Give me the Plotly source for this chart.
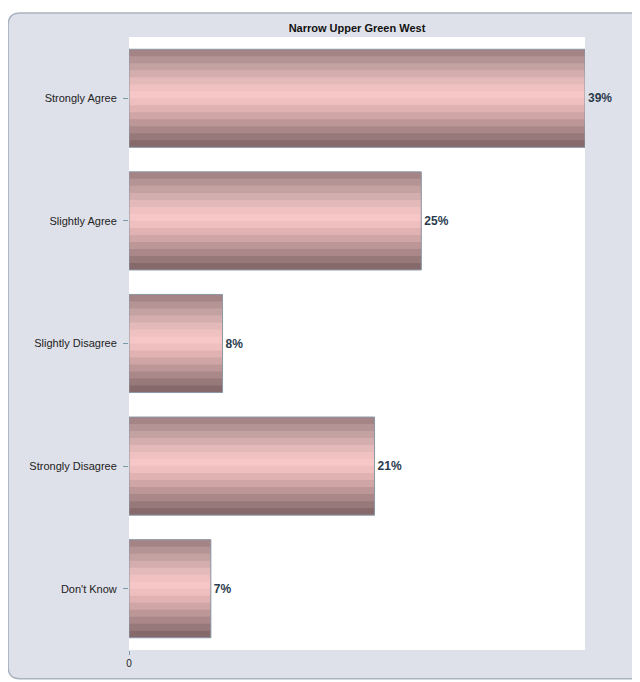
import plotly.graph_objects as go

# categories and percentages
categories = ["Strongly Agree", "Slightly Agree", "Slightly Disagree", "Strongly Disagree", "Don't Know"]
values = [39, 25, 8, 21, 7]
labels = ["39%", "25%", "8%", "21%", "7%"]

# horizontal stripes giving the shaded bar look (top -> bottom)
stripe_colors = ["#a58486", "#b59495", "#c4a2a2", "#d4aeae", "#e4b9b9", "#f0c1c1", "#f7c7c7",
                 "#efbebe", "#e1b2b2", "#d0a5a5", "#bd9697", "#aa8788", "#98797a", "#86696b"]

bar_w = 0.8
n = len(stripe_colors)
h = bar_w / n

fig = go.Figure()

for i, c in enumerate(stripe_colors):
    # each stripe overlaps the next one a little so no seams show
    w = h if i == n - 1 else h * 1.4
    fig.add_trace(go.Bar(
        y=categories, x=values, orientation="h",
        width=w, offset=-bar_w / 2 + i * h,
        marker=dict(color=c, line=dict(width=0)),
        hoverinfo="skip", showlegend=False,
    ))

# outline + value labels
fig.add_trace(go.Bar(
    y=categories, x=values, orientation="h",
    width=bar_w, offset=-bar_w / 2,
    marker=dict(color="rgba(0,0,0,0)", line=dict(color="#8a96a4", width=1)),
    text=["<b>%s</b>" % t for t in labels], textposition="outside", cliponaxis=False,
    textfont=dict(family="Liberation Sans, Arial", size=12, color="#2b3b4e"),
    showlegend=False,
))

# rounded grey panel behind the chart (right side runs off the page)
x0, x1, y0, y1 = -0.265, 1.3, -0.047, 1.039
rx, ry = 0.026, 0.0196
panel = (f"M {x0+rx},{y1} L {x1},{y1} L {x1},{y0} L {x0+rx},{y0} "
         f"Q {x0},{y0} {x0},{y0+ry} L {x0},{y1-ry} Q {x0},{y1} {x0+rx},{y1} Z")

# page has an 8px body margin: keep the figure inside the window (no scrollbars)
fig.update_layout(
    width=624, height=674,
    margin=dict(l=121, r=47, t=29, b=32),
    paper_bgcolor="white",
    plot_bgcolor="white",
    barmode="overlay",
    font=dict(family="Liberation Sans, Arial", size=11, color="#222222"),
    title=dict(text="<b>Narrow Upper Green West</b>", x=0.5, xref="paper", y=1.0, yref="paper",
               yanchor="bottom", pad=dict(b=5),
               font=dict(family="Liberation Sans Narrow, Arial Narrow, Arial", size=11, color="#111111")),
    shapes=[
        dict(type="path", path=panel, xref="paper", yref="paper",
             fillcolor="#dfe1ea", line=dict(color="#a9b2c0", width=1.5), layer="below"),
        dict(type="rect", x0=0, x1=1, y0=0, y1=1, xref="paper", yref="paper",
             fillcolor="white", line=dict(width=0), layer="below"),
    ],
)

fig.update_xaxes(range=[0, 39], tickvals=[0], ticktext=["0"], ticks="outside", ticklen=4,
                 tickcolor="#7a9aaa", showgrid=False, zeroline=False, showline=False,
                 tickfont=dict(size=10))
fig.update_yaxes(autorange="reversed", ticks="outside", ticklen=5, tickcolor="#7a9aaa",
                 showgrid=False, showline=False, ticklabelstandoff=4)

fig.write_html("out.html")
